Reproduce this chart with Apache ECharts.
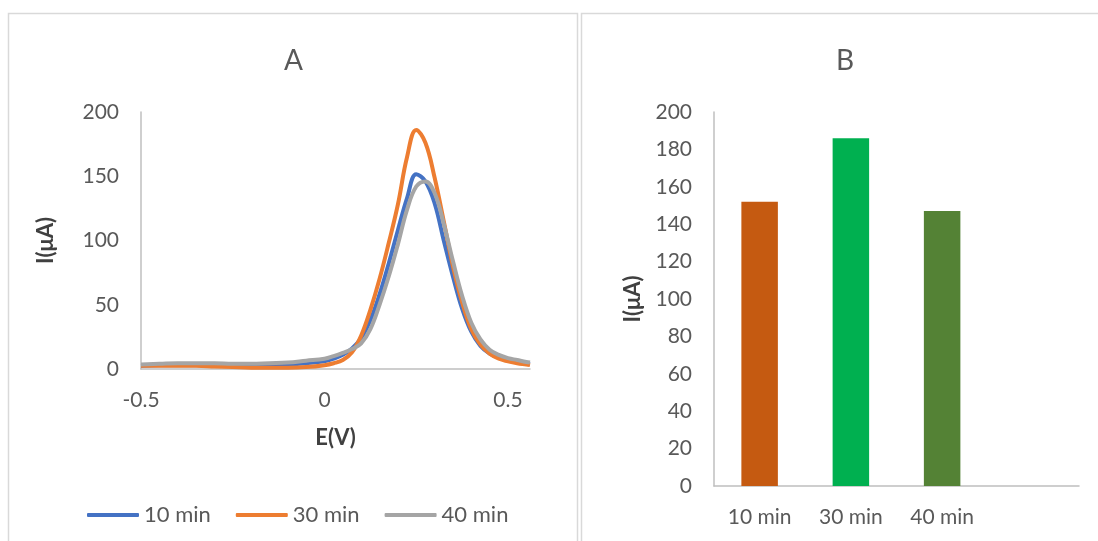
<!DOCTYPE html>
<html>
<head>
<meta charset="utf-8">
<script src="https://cdn.jsdelivr.net/npm/echarts@6/dist/echarts.min.js"></script>
<style>
  html, body { margin: 0; padding: 0; background: #fff; }
  #chart { width: 1098px; height: 541px; }
</style>
</head>
<body>
<div id="chart"></div>
<script>
// E(V) grid shared by the three voltammograms
const potential = [-0.5, -0.45, -0.4, -0.35, -0.3, -0.25, -0.2, -0.15, -0.1, -0.05,
  0, 0.025, 0.05, 0.075, 0.1, 0.125, 0.15, 0.175, 0.2, 0.225, 0.25, 0.275, 0.3,
  0.325, 0.35, 0.375, 0.4, 0.425, 0.45, 0.475, 0.5, 0.525, 0.55, 0.56];
const current10 = [2.5, 3, 3, 3, 3, 2.5, 2.5, 3, 3.5, 4.5,
  6, 8, 11, 16, 24, 38, 58, 82, 108, 133, 151.5, 146, 129,
  100, 72, 47, 29, 18, 12, 9, 7, 5.5, 4.5, 4];
const current30 = [2.5, 2.5, 2.5, 2.5, 2, 1.5, 1, 1, 1, 1.5,
  3, 4.5, 7, 13, 26, 46, 70, 98, 128, 165, 186, 176, 149,
  115, 80, 52, 31, 19, 12, 8, 6, 4.5, 3.5, 3];
const current40 = [3.5, 4, 4.5, 4.5, 4.5, 4, 4, 4.5, 5, 6.5,
  8, 10, 12.5, 15.5, 20, 31, 50, 72, 97, 124, 142, 146, 137,
  113, 84, 57, 36, 23, 15, 11, 8.5, 7, 5.5, 5];
const seriesNames = ['10 min', '30 min', '40 min'];

// panel B
const barCategories = ['10 min', '30 min', '40 min', ''];
const barValues = [152, 186, 147];

const lineColors = ['#4472C4', '#ED7D31', '#A5A5A5'];
const barColors = ['#C55A11', '#00B050', '#548235'];

const FONT = 'Lato, "Open Sans", sans-serif';
const TXT = '#595959';

const chart = echarts.init(document.getElementById('chart'));

function pairs(ys) {
  return potential.map((e, i) => [e, ys[i]]);
}

const curves = [current10, current30, current40];

chart.setOption({
  animation: false,
  textStyle: { fontFamily: FONT },
  title: [
    { text: 'A', left: 279, top: 42, textStyle: { fontSize: 28, fontWeight: 'normal', color: TXT, fontFamily: FONT } },
    { text: 'B', left: 831, top: 42, textStyle: { fontSize: 28, fontWeight: 'normal', color: TXT, fontFamily: FONT } }
  ],
  graphic: [
    { type: 'rect', shape: { x: 8.5, y: 13.5, width: 569, height: 560 }, style: { fill: null, stroke: '#D9D9D9', lineWidth: 1.5 }, silent: true },
    { type: 'rect', shape: { x: 581.5, y: 13.5, width: 560, height: 560 }, style: { fill: null, stroke: '#D9D9D9', lineWidth: 1.5 }, silent: true }
  ],
  legend: {
    data: seriesNames,
    left: 82,
    top: 499,
    icon: 'roundRect',
    itemWidth: 52,
    itemHeight: 4,
    itemGap: 25,
    textStyle: { fontSize: 22, color: TXT, fontFamily: FONT }
  },
  grid: [
    { left: 141, top: 112, right: 568, bottom: 172 },
    { left: 714, top: 112, right: 19, bottom: 55 }
  ],
  xAxis: [
    {
      gridIndex: 0, type: 'value', min: -0.5, max: 0.56, interval: 0.5,
      name: 'E(V)', nameLocation: 'middle', nameGap: 58,
      nameTextStyle: { fontSize: 22, fontWeight: 'bold', color: '#404040', fontFamily: FONT },
      axisLine: { show: true, lineStyle: { color: '#BFBFBF', width: 1.5 } },
      axisTick: { show: false },
      splitLine: { show: false },
      axisLabel: { fontSize: 21, color: TXT, margin: 21, showMaxLabel: false }
    },
    {
      gridIndex: 1, type: 'category', data: barCategories,
      axisLine: { show: true, lineStyle: { color: '#BFBFBF', width: 1.5 } },
      axisTick: { show: false },
      axisLabel: { fontSize: 21, color: TXT, margin: 21, interval: 0 }
    }
  ],
  yAxis: [
    {
      gridIndex: 0, type: 'value', min: 0, max: 200, interval: 50,
      name: 'I(μA)', nameLocation: 'middle', nameGap: 84,
      nameTextStyle: { fontSize: 22, fontWeight: 'bold', color: '#404040', fontFamily: FONT },
      axisLine: { show: true, onZero: false, lineStyle: { color: '#BFBFBF', width: 1.5 } },
      axisTick: { show: false },
      splitLine: { show: false },
      axisLabel: { fontSize: 21, color: TXT, margin: 22 }
    },
    {
      gridIndex: 1, type: 'value', min: 0, max: 200, interval: 20,
      name: 'I(μA)', nameLocation: 'middle', nameGap: 70,
      nameTextStyle: { fontSize: 22, fontWeight: 'bold', color: '#404040', fontFamily: FONT },
      axisLine: { show: true, lineStyle: { color: '#BFBFBF', width: 1.5 } },
      axisTick: { show: false },
      splitLine: { show: false },
      axisLabel: { fontSize: 21, color: TXT, margin: 22 }
    }
  ],
  series: [
    ...curves.map((ys, i) => ({
      name: seriesNames[i],
      type: 'line',
      xAxisIndex: 0,
      yAxisIndex: 0,
      data: pairs(ys),
      smooth: 0.4,
      symbol: 'none',
      lineStyle: { color: lineColors[i], width: 4 },
      itemStyle: { color: lineColors[i] }
    })),
    {
      name: 'B',
      type: 'bar',
      xAxisIndex: 1,
      yAxisIndex: 1,
      barWidth: '40%',
      data: barValues.map((v, i) => ({ value: v, itemStyle: { color: barColors[i] } }))
    }
  ]
});
</script>
</body>
</html>
